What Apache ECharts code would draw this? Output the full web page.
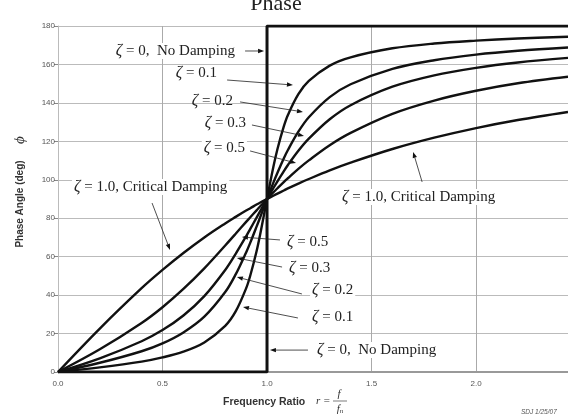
<!DOCTYPE html>
<html>
<head>
<meta charset="utf-8">
<script src="https://cdn.jsdelivr.net/npm/echarts@6/dist/echarts.min.js"></script>
<style>
  html, body { margin: 0; padding: 0; background: #fff; }
  #main { width: 568px; height: 419px; }
</style>
</head>
<body>
<div id="main"></div>
<script>
// frequency ratio r = f / fn
var ratios = [0, 0.2, 0.4, 0.5, 0.6, 0.7, 0.8, 0.85, 0.9, 0.92, 0.95, 0.97, 1.0, 1.03, 1.05, 1.08, 1.1, 1.15, 1.2, 1.3, 1.4, 1.6, 1.8, 2.0, 2.2, 2.44];
// phase angle (deg)
var zeta01 = [0, 2.4, 5.4, 7.6, 10.6, 15.4, 24.0, 31.5, 43.5, 50.2, 62.8, 73.1, 90, 106.5, 116.0, 127.6, 133.7, 144.5, 151.4, 159.4, 163.7, 168.4, 170.9, 172.4, 173.5, 174.4];
var zeta02 = [0, 4.8, 10.8, 14.9, 20.6, 28.8, 41.6, 50.8, 62.2, 67.3, 75.6, 81.3, 90, 98.4, 103.7, 111.1, 115.5, 125.0, 132.5, 143.0, 149.7, 157.7, 162.2, 165.1, 167.1, 168.8];
var zeta03 = [0, 7.1, 16.0, 21.8, 29.4, 39.5, 53.1, 61.5, 70.6, 74.5, 80.3, 84.2, 90, 95.6, 99.2, 104.4, 107.7, 115.1, 121.4, 131.5, 138.8, 148.4, 154.3, 158.2, 161.0, 163.4];
var zeta05 = [0, 11.8, 25.5, 33.7, 43.2, 53.9, 65.8, 71.9, 78.1, 80.5, 84.1, 86.5, 90, 93.4, 95.6, 98.8, 100.8, 105.7, 110.1, 118.0, 124.4, 134.3, 141.2, 146.3, 150.2, 153.6];
var zeta10 = [0, 22.6, 43.6, 53.1, 61.9, 70.0, 77.3, 80.7, 84.0, 85.2, 87.1, 88.3, 90, 91.7, 92.8, 94.4, 95.5, 98.0, 100.4, 104.9, 108.9, 116.0, 121.9, 126.9, 131.1, 135.3];
// no damping: step at r = 1
var zeroX = [0, 1, 1, 2.44];
var zeroY = [0, 0, 180, 180];

var xTicks = [0, 0.5, 1.0, 1.5, 2.0];
var yTicks = [0, 20, 40, 60, 80, 100, 120, 140, 160, 180];

var curveLabels = ['ζ = 0.1', 'ζ = 0.2', 'ζ = 0.3', 'ζ = 0.5', 'ζ = 1.0'];

function pairs(xs, ys) {
    return xs.map(function (x, i) { return [x, ys[i]]; });
}

var chart = echarts.init(document.getElementById('main'));

function curve(name, ys) {
    return {
        name: name,
        type: 'line',
        data: pairs(ratios, ys),
        showSymbol: false,
        smooth: 0.35,
        silent: true,
        lineStyle: { color: '#111', width: 2.4 }
    };
}

var option = {
    animation: false,
    grid: { left: 58, right: 0, top: 26, bottom: 47 },
    xAxis: {
        type: 'value',
        min: 0,
        max: 2.44,
        interval: 0.5,
        axisLine: { show: true, lineStyle: { color: '#999', width: 2 } },
        axisTick: { show: false },
        axisLabel: {
            fontSize: 8, color: '#555', margin: 8, fontFamily: 'Liberation Sans',
            showMaxLabel: false,
            formatter: function (v) { return xTicks.indexOf(v) >= 0 ? v.toFixed(1) : ''; }
        },
        splitLine: { show: true, lineStyle: { color: '#aaa', width: 1 } }
    },
    yAxis: {
        type: 'value',
        min: 0,
        max: 180,
        interval: 20,
        axisLine: { show: true, lineStyle: { color: '#bbb', width: 1 } },
        axisTick: { show: true, length: 4, lineStyle: { color: '#888' } },
        axisLabel: {
            fontSize: 8, color: '#555', margin: 3, fontFamily: 'Liberation Sans',
            formatter: function (v) { return yTicks.indexOf(v) >= 0 ? String(v) : ''; }
        },
        splitLine: { show: true, lineStyle: { color: '#bbb', width: 1 } }
    },
    series: [
        curve(curveLabels[0], zeta01),
        curve(curveLabels[1], zeta02),
        curve(curveLabels[2], zeta03),
        curve(curveLabels[3], zeta05),
        curve(curveLabels[4], zeta10),
        {
            name: 'ζ = 0',
            type: 'line',
            data: pairs(zeroX, zeroY),
            showSymbol: false,
            silent: true,
            lineStyle: { color: '#111', width: 3 }
        }
    ]
};
chart.setOption(option);

// annotation layout, in data coordinates
var notes = [
    { t: '{z|ζ} = 0,  No Damping', at: [0.856, 167], align: 'right', bg: true },
    { t: '{z|ζ} = 0.1', at: [0.77, 155.6], align: 'right', bg: true },
    { t: '{z|ζ} = 0.2', at: [0.847, 141], align: 'right', bg: false },
    { t: '{z|ζ} = 0.3', at: [0.909, 129.6], align: 'right', bg: true },
    { t: '{z|ζ} = 0.5', at: [0.904, 116.5], align: 'right', bg: true },
    { t: '{z|ζ} = 1.0, Critical Damping', at: [0.067, 96.3], align: 'left', bg: true },
    { t: '{z|ζ} = 1.0, Critical Damping', at: [1.349, 91], align: 'left', bg: true },
    { t: '{z|ζ} = 0.5', at: [1.086, 67.6], align: 'left', bg: true },
    { t: '{z|ζ} = 0.3', at: [1.096, 54.1], align: 'left', bg: true },
    { t: '{z|ζ} = 0.2', at: [1.206, 42.7], align: 'left', bg: true },
    { t: '{z|ζ} = 0.1', at: [1.206, 28.6], align: 'left', bg: true },
    { t: '{z|ζ} = 0,  No Damping', at: [1.23, 11.4], align: 'left', bg: true }
];
var arrows = [
    [[0.895, 167], [0.986, 167]],
    [[0.809, 151.9], [1.124, 149.3]],
    [[0.871, 140.5], [1.172, 135.3]],
    [[0.928, 128.5], [1.177, 122.8]],
    [[0.919, 115.0], [1.139, 108.7]],
    [[0.45, 87.9], [0.536, 63.5]],
    [[1.742, 98.9], [1.699, 114.5]],
    [[1.062, 68.7], [0.88, 70.2]],
    [[1.072, 54.6], [0.856, 59.3]],
    [[1.167, 40.6], [0.856, 49.4]],
    [[1.148, 28.1], [0.885, 33.8]],
    [[1.196, 11.4], [1.014, 11.4]]
];

function px(p) { return chart.convertToPixel({ gridIndex: 0 }, p); }

var graphics = [];
arrows.forEach(function (a) {
    var s = px(a[0]), e = px(a[1]);
    var dx = e[0] - s[0], dy = e[1] - s[1];
    var len = Math.sqrt(dx * dx + dy * dy);
    var ux = dx / len, uy = dy / len;
    var bx = e[0] - ux * 6, by = e[1] - uy * 6;
    graphics.push({
        type: 'line', z: 100, silent: true,
        shape: { x1: s[0], y1: s[1], x2: bx, y2: by },
        style: { stroke: '#222', lineWidth: 0.8 }
    });
    graphics.push({
        type: 'polygon', z: 100, silent: true,
        shape: { points: [[e[0], e[1]], [bx - uy * 2.2, by + ux * 2.2], [bx + uy * 2.2, by - ux * 2.2]] },
        style: { fill: '#111' }
    });
});
notes.forEach(function (n) {
    var p = px(n.at);
    graphics.push({
        type: 'text', z: 101, silent: true,
        x: p[0], y: p[1],
        style: {
            text: n.t,
            align: n.align,
            verticalAlign: 'middle',
            font: '15px "Liberation Serif"',
            fill: '#222',
            backgroundColor: n.bg ? '#fff' : 'transparent',
            padding: [0, 2],
            rich: { z: { font: 'italic 16px "Liberation Serif"', fill: '#222' } }
        }
    });
});

// titles and axis names
graphics.push(
    {
        type: 'text', x: 276, y: 15, silent: true,
        style: { text: 'Phase', font: '22px "Liberation Serif"', fill: '#222', align: 'center', verticalAlign: 'bottom' }
    },
    {
        type: 'text', x: 20, y: 204, rotation: Math.PI / 2, silent: true,
        style: { text: 'Phase Angle (deg)', font: 'bold 10px "Liberation Sans"', fill: '#333', align: 'center', verticalAlign: 'middle' }
    },
    {
        type: 'text', x: 20, y: 140, rotation: Math.PI / 2, silent: true,
        style: { text: 'ϕ', font: 'italic 15px "Liberation Serif"', fill: '#333', align: 'center', verticalAlign: 'middle' }
    },
    {
        type: 'text', x: 223, y: 402, silent: true,
        style: { text: 'Frequency Ratio', font: 'bold 10.5px "Liberation Sans"', fill: '#333', align: 'left', verticalAlign: 'middle' }
    },
    {
        type: 'text', x: 316, y: 401, silent: true,
        style: { text: 'r =', font: 'italic 11px "Liberation Serif"', fill: '#333', align: 'left', verticalAlign: 'middle' }
    },
    {
        type: 'text', x: 339, y: 394, silent: true,
        style: { text: 'f', font: 'italic 11px "Liberation Serif"', fill: '#333', align: 'center', verticalAlign: 'middle' }
    },
    {
        type: 'line', silent: true,
        shape: { x1: 333, y1: 401, x2: 347, y2: 401 },
        style: { stroke: '#444', lineWidth: 0.7 }
    },
    {
        type: 'text', x: 340, y: 409, silent: true,
        style: {
            text: 'f{s|n}', font: 'italic 11px "Liberation Serif"', fill: '#333', align: 'center', verticalAlign: 'middle',
            rich: { s: { font: 'italic 7px "Liberation Serif"', fill: '#333', padding: [4, 0, 0, 0] } }
        }
    },
    {
        type: 'text', x: 521, y: 412, silent: true,
        style: { text: 'SDJ 1/25/07', font: 'italic 6.5px "Liberation Sans"', fill: '#555', align: 'left', verticalAlign: 'middle' }
    }
);

chart.setOption({ graphic: graphics });
</script>
</body>
</html>
